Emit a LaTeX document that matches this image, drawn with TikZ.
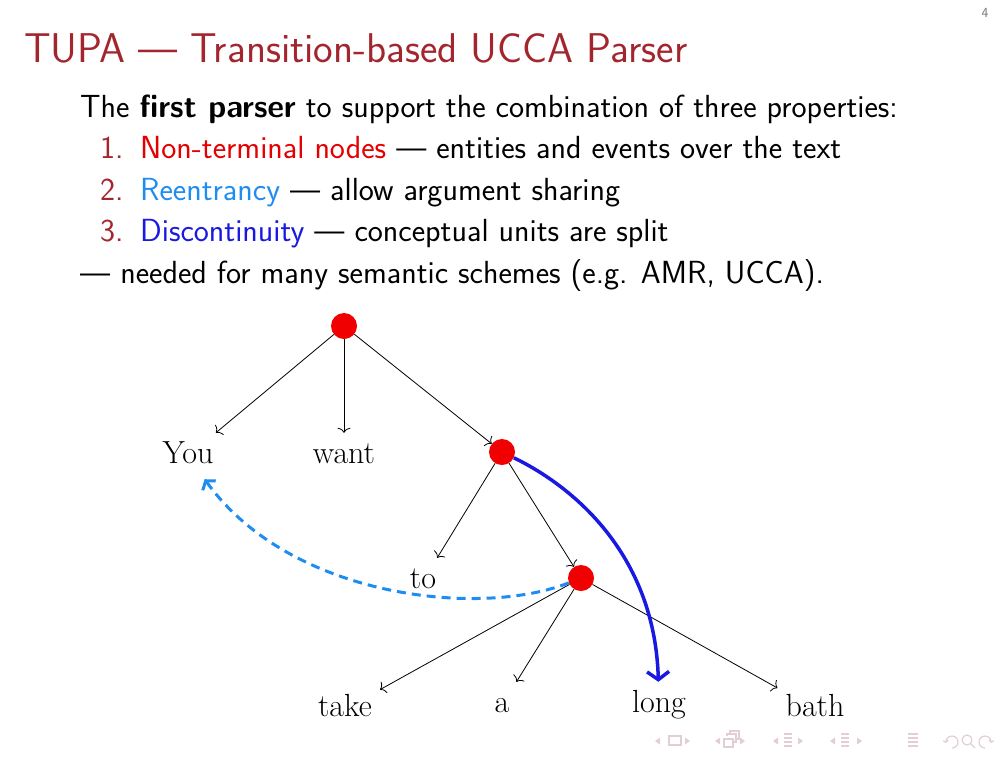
\documentclass[tikz,border=0pt]{standalone}
\usepackage{fontspec}
\usetikzlibrary{arrows.meta}
\definecolor{titlered}{RGB}{163,38,46}
\definecolor{nred}{RGB}{228,0,0}
\definecolor{reblue}{RGB}{30,140,240}
\definecolor{disblue}{RGB}{25,25,225}
\definecolor{navc}{RGB}{226,206,212}
\definecolor{dotred}{RGB}{240,0,0}
\definecolor{pagegray}{RGB}{120,120,120}
\begin{document}
\begin{tikzpicture}[x=1pt,y=-1pt,
  every node/.style={inner sep=0pt},
  ttl/.style={anchor=base west,font=\fontsize{41.6}{48}\selectfont\sffamily,text=titlered},
  body/.style={anchor=base west,font=\fontsize{32}{38}\selectfont\sffamily},
  num/.style={body,text=titlered},
  dot/.style={circle,fill=dotred,minimum size=26pt,inner sep=0pt},
  word/.style={anchor=base,font=\fontsize{32}{38}\selectfont\rmfamily,text height=22pt,text depth=8pt,inner sep=8pt},
  edge/.style={draw=black,line width=0.8pt,-{To[length=5pt,width=13pt]}},
  bluearc/.style={draw=disblue,line width=3.5pt,-{Straight Barb[length=8pt,width=22pt,line width=3.5pt]}},
  dasharc/.style={draw=reblue,line width=3pt,dash pattern=on 9pt off 6pt,-{Straight Barb[length=6pt,width=16pt,line width=3pt]}},
  nav/.style={fill=navc,draw=none}
]
\useasboundingbox (0,0) rectangle (1008,756);
% title and page number
\node[ttl] (title) at (24,62) {TUPA — Transition-based UCCA Parser};
\node[anchor=base,font=\fontsize{14}{16}\selectfont\sffamily,text=pagegray] (page) at (985,17) {4};
% body text
\node[body] (l1) at (80,117) {The \textbf{first parser} to support the combination of three properties:};
\node[num] (n1) at (100,158) {1.};
\node[body] (t1) at (140,158) {\textcolor{nred}{Non-terminal nodes} — entities and events over the text};
\node[num] (n2l) at (100,200) {2.};
\node[body] (t2) at (140,200) {\textcolor{reblue}{Reentrancy} — allow argument sharing};
\node[num] (n3l) at (100,241) {3.};
\node[body] (t3) at (140,241) {\textcolor{disblue}{Discontinuity} — conceptual units are split};
\node[body] (l5) at (80,283) {— needed for many semantic schemes (e.g. AMR, UCCA).};
% tree
\node[dot] (root) at (344,326) {};
\node[dot] (mid) at (502,452) {};
\node[dot] (low) at (581,578) {};
\node[word] (you) at (188,463) {You};
\node[word] (want) at (344,463) {want};
\node[word] (to) at (423,588) {to};
\node[word] (take) at (345,716) {take};
\node[word] (a) at (502,712) {a};
\node[word] (long) at (659,712) {long};
\node[word] (bath) at (815,716) {bath};
\draw[edge] (root) -- (you);
\draw[edge] (root) -- (want);
\draw[edge] (root) -- (mid);
\draw[edge] (mid) -- (to);
\draw[edge] (mid) -- (low);
\draw[edge] (low) -- (take);
\draw[edge] (low) -- (a);
\draw[edge] (low) -- (bath);
\draw[bluearc] (mid) .. controls (580,490) and (655,560) .. (long);
\draw[dasharc] (low) .. controls (480,618) and (290,598) .. (you);
% navigation symbols
\foreach \x in {655,715,773,830} \fill[nav] (\x,741) -- ++(5,-3.5) -- ++(0,7) -- cycle;
\foreach \x in {690,745,803,862} \fill[nav] (\x,741) -- ++(-5,-3.5) -- ++(0,7) -- cycle;
\draw[navc,line width=1.2pt] (669,736) rectangle (681,745);
\draw[navc,line width=1.2pt] (724,739) rectangle (733,747);
\draw[navc,line width=1.2pt] (727,736) -- (727,734) -- (736,734) -- (736,742) -- (733,742);
\draw[navc,line width=1.2pt] (730,734) -- (730,731) -- (739,731) -- (739,739) -- (736,739);
\foreach \x in {788,845} {\foreach \yy in {734,738,742,746} \draw[navc,line width=1.2pt] (\x-4,\yy) -- (\x+4,\yy);}
\foreach \yy in {734,738,742,746} \draw[navc,line width=1.2pt] (908,\yy) -- (918,\yy);
\draw[navc,line width=1.2pt,-{Straight Barb[length=2pt,width=5pt]}] (952,748) arc (-90:190:6pt);
\draw[navc,line width=1.2pt] (967,740) circle (5pt) (971,744) -- (975,748);
\draw[navc,line width=1.2pt,-{Straight Barb[length=2pt,width=5pt]}] (985,748) arc (270:-10:6pt);
\end{tikzpicture}
\end{document}
